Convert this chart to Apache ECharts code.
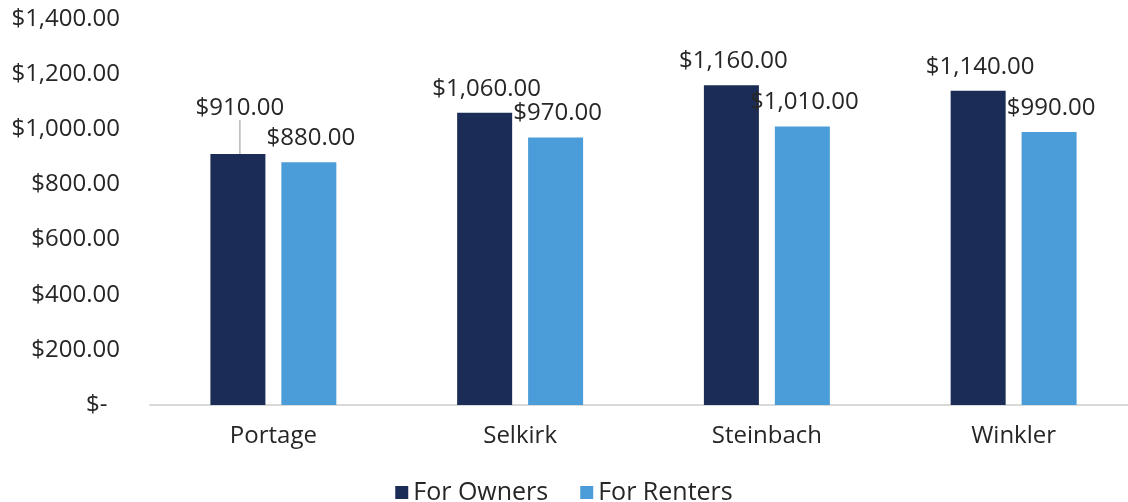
<!DOCTYPE html>
<html>
<head>
<meta charset="utf-8">
<script src="https://cdn.jsdelivr.net/npm/echarts@6/dist/echarts.min.js"></script>
<style>
  html, body { margin: 0; padding: 0; background: #fff; }
  #chart { width: 1128px; height: 502px; }
</style>
</head>
<body>
<div id="chart"></div>
<script>
const towns = ['Portage', 'Selkirk', 'Steinbach', 'Winkler'];
const ownerCosts = [910, 1060, 1160, 1140];
const renterCosts = [880, 970, 1010, 990];
// Excel lifted the Portage owner label and drew a leader line to it
const ownerLift = [-22, 0, 0, 0];

const font = 'Open Sans';
const money = v => v === 0 ? '$-  ' : '$' + v.toLocaleString('en-US', { minimumFractionDigits: 2, maximumFractionDigits: 2 });

const chart = echarts.init(document.getElementById('chart'));

function barSeries(name, values, color, lift) {
  return {
    name: name,
    type: 'bar',
    barWidth: 55,
    barGap: '29%',
    data: values.map((v, i) => ({
      value: v,
      labelLine: { show: lift[i] !== 0 }
    })),
    itemStyle: { color: color },
    label: {
      show: true,
      position: 'top',
      distance: 12,
      fontFamily: font,
      fontSize: 24,
      color: '#262626',
      formatter: p => money(p.value)
    },
    labelLine: { show: false, lineStyle: { color: '#a6a6a6', width: 1.2 } },
    labelLayout: p => ({ dx: 2, dy: lift[p.dataIndex] })
  };
}

chart.setOption({
  animation: false,
  textStyle: { fontFamily: font },
  grid: { left: 150, top: 19, width: 987, height: 386, outerBoundsMode: 'none' },
  legend: {
    top: 475,
    left: 'center',
    itemWidth: 13,
    itemHeight: 13,
    itemGap: 32,
    icon: 'rect',
    textStyle: { fontFamily: font, fontSize: 25, color: '#262626' },
    data: ['For Owners', 'For Renters']
  },
  xAxis: {
    type: 'category',
    data: towns,
    axisLine: { lineStyle: { color: '#d9d9d9', width: 2 } },
    axisTick: { show: false },
    axisLabel: { fontFamily: font, fontSize: 24, color: '#262626', margin: 19 }
  },
  yAxis: {
    type: 'value',
    min: 0,
    max: 1400,
    interval: 200,
    splitLine: { show: false },
    axisLine: { show: false },
    axisTick: { show: false },
    axisLabel: { fontFamily: font, fontSize: 24, color: '#262626', margin: 30, formatter: money }
  },
  series: [
    barSeries('For Owners', ownerCosts, '#1b2d56', ownerLift),
    barSeries('For Renters', renterCosts, '#4a9dd8', [0, 0, 0, 0])
  ]
});
</script>
</body>
</html>
